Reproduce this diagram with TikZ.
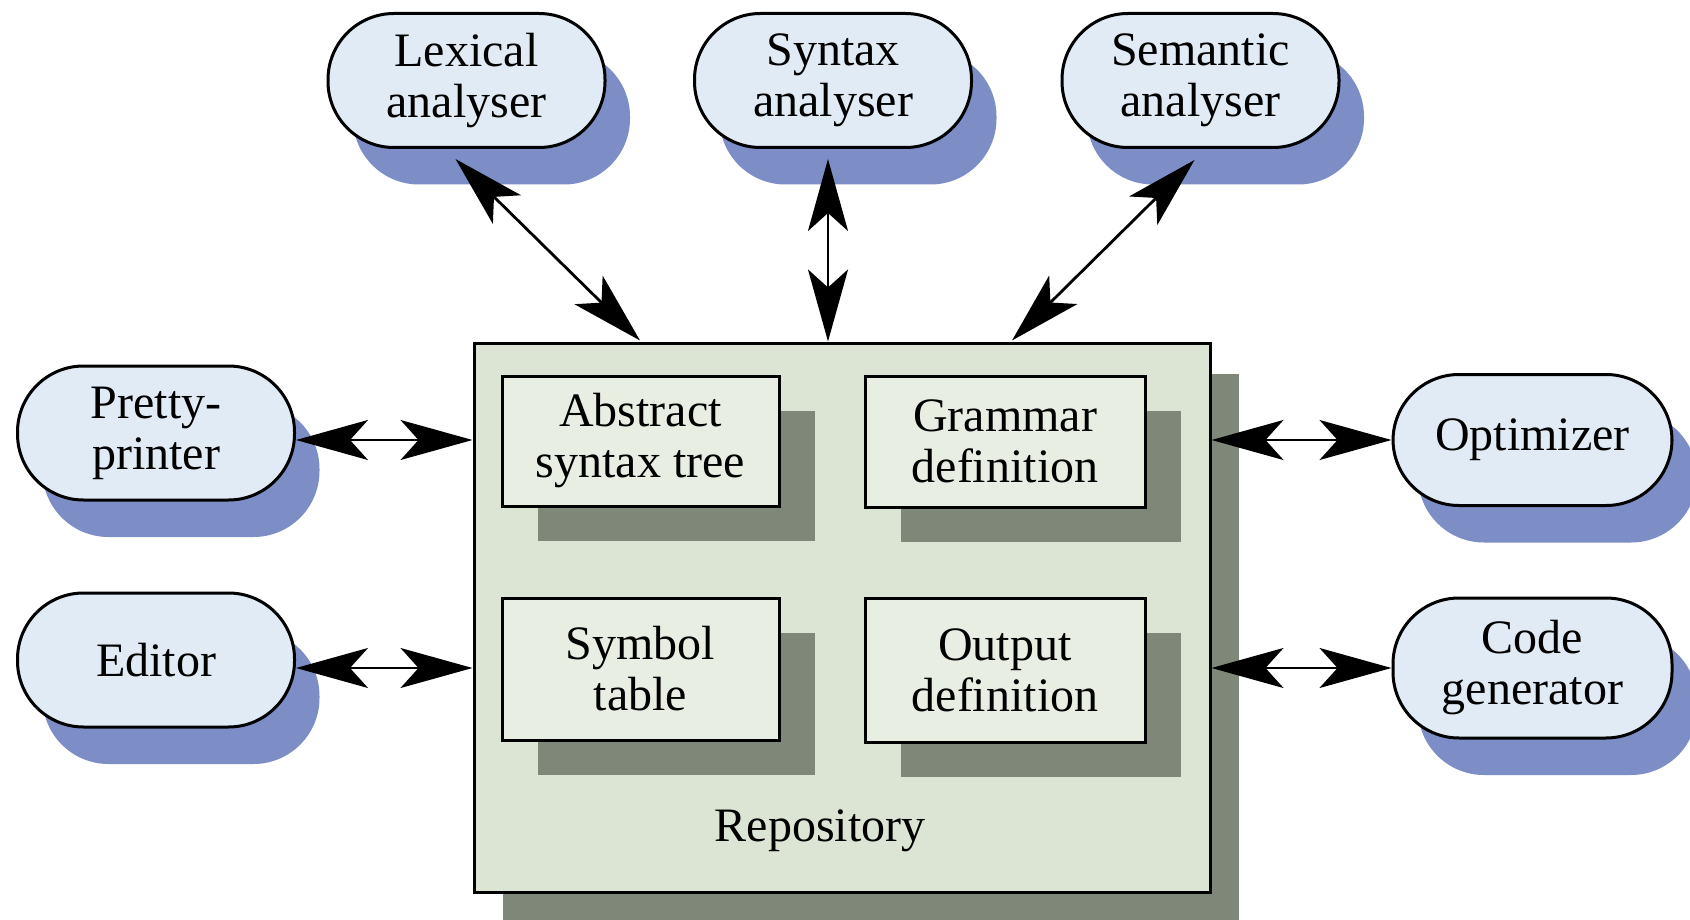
\documentclass[tikz,border=0pt]{standalone}
\usepackage{fontspec}
\setmainfont{Liberation Serif}
\usetikzlibrary{arrows.meta,shadows}
\definecolor{stadfill}{HTML}{E0EBF5}
\definecolor{stadshadow}{HTML}{7D8DC5}
\definecolor{repofill}{HTML}{DCE5D3}
\definecolor{boxfill}{HTML}{E8EEE2}
\definecolor{boxshadow}{HTML}{7F8878}
\tikzset{
  txt/.style={font=\fontsize{48}{51}\selectfont, align=center, text=black},
  tool/.style={txt, draw=black, line width=3pt, fill=stadfill, rounded corners=66pt,
    minimum width=277pt, minimum height=134pt, inner sep=0pt,
    general shadow={fill=stadshadow, shadow xshift=25pt, shadow yshift=-37pt}},
  part/.style={txt, draw=black, line width=3pt, fill=boxfill, inner sep=0pt,
    general shadow={fill=boxshadow, shadow xshift=36pt, shadow yshift=-35pt}},
  repobox/.style={draw=black, line width=3pt, fill=repofill, inner sep=0pt,
    general shadow={fill=boxshadow, shadow xshift=29pt, shadow yshift=-31pt}},
  biarrow/.style={line width=2pt,
    {Stealth[length=72pt,width=40pt,inset=18pt]}-{Stealth[length=72pt,width=40pt,inset=18pt]}},
  biarrowthick/.style={biarrow, line width=2.8pt}
}
\begin{document}
\begin{tikzpicture}[x=1pt,y=-1pt]
\fill[white] (0,0) rectangle (1690,920);
\clip (0,0) rectangle (1690,920);
\useasboundingbox (0,0) rectangle (1690,920);

% repository
\node[repobox, minimum width=736pt, minimum height=549pt] (repo) at (842,617.5) {};
\node[txt, anchor=base] (replabel) at (820,841) {Repository};

% parts inside repository
\node[part, minimum width=277pt, minimum height=130pt] (ast) at (640.5,441) {Abstract\\syntax tree};
\node[part, minimum width=280pt, minimum height=131pt] (gram) at (1005,441.5) {Grammar\\definition};
\node[part, minimum width=277pt, minimum height=142pt] (sym) at (640.5,669) {Symbol\\table};
\node[part, minimum width=280pt, minimum height=144pt] (out) at (1005,670) {Output\\definition};

% tools
\node[tool] (lex) at (466.5,80.5) {Lexical\\analyser};
\node[tool] (syn) at (833,80.5) {Syntax\\analyser};
\node[tool] (sem) at (1200.5,80.5) {Semantic\\analyser};
\node[tool] (pp) at (156,433) {Pretty-\\printer};
\node[tool] (ed) at (156,660) {Editor};
\node[tool, minimum width=279pt, minimum height=131pt] (opt) at (1532.5,440) {Optimizer};
\node[tool, minimum width=279pt, minimum height=140pt] (cg) at (1532.5,668) {Code\\generator};

% connectors
\draw[biarrowthick] ([xshift=-11pt,yshift=-10pt]lex.south) -- ([xshift=-202pt,yshift=1pt]repo.north);
\draw[biarrowthick] ([xshift=-5pt,yshift=-10pt]syn.south) -- ([xshift=-14pt]repo.north);
\draw[biarrowthick] ([xshift=-6pt,yshift=-11pt]sem.south) -- ([xshift=170pt,yshift=1pt]repo.north);

\draw[biarrow] (pp.east |- opt.west) -- (repo.west |- opt.west);
\draw[biarrow] (ed.east |- cg.west) -- (repo.west |- cg.west);
\draw[biarrow] (repo.east |- opt.west) -- (opt.west);
\draw[biarrow] (repo.east |- cg.west) -- (cg.west);
\end{tikzpicture}
\end{document}
